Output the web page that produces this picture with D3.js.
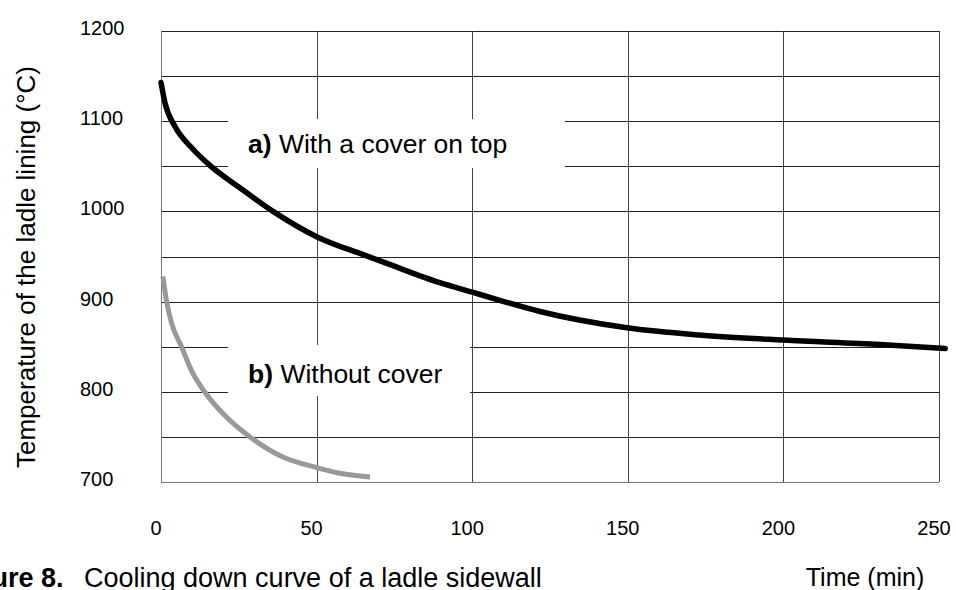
<!DOCTYPE html>
<html>
<head>
<meta charset="utf-8">
<script src="https://cdn.jsdelivr.net/npm/d3@7"></script>
<style>
  body { margin: 0; background: #fff; }
  svg text { font-family: "Liberation Sans", Arial, sans-serif; fill: #000; }
</style>
</head>
<body>
<svg id="chart" width="956" height="590"></svg>
<script>
const timeA = [0, 1.3, 4.5, 10, 15.7, 25, 36, 50, 65, 71.3, 89.6, 100, 108.3, 121.8, 149.7, 173, 200, 231, 252];
const tempA = [1143, 1120, 1094, 1070, 1051, 1027, 1000, 972, 952, 944, 921, 910.5, 902, 889, 871, 863, 857.4, 852.5, 848];

const timeB = [0.6, 1.8, 3.5, 6.6, 10, 14, 21, 28.6, 39, 50, 57, 67.2];
const tempB = [928, 900, 875, 850, 822, 800, 772, 750, 728, 716, 710, 705.5];

const xTicks = [0, 50, 100, 150, 200, 250];
const yTicks = [700, 800, 900, 1000, 1100, 1200];
const yGrid = [700, 750, 800, 850, 900, 950, 1000, 1050, 1100, 1150, 1200];

// label boxes in data units: [t0, t1, tempTop, tempBottom]
const boxA = [21.5, 129.8, 1102.4, 1048];
const boxB = [21.5, 99.3, 852, 795.3];

const margin = { top: 31, right: 17, bottom: 108, left: 161 },
    width = 956 - margin.left - margin.right,
    height = 590 - margin.top - margin.bottom;

const svg = d3.select("#chart");
const g = svg.append("g")
    .attr("transform", `translate(${margin.left},${margin.top})`);

const x = d3.scaleLinear().domain([0, 250]).range([0, width]);
const y = d3.scaleLinear().domain([700, 1200]).range([height, 0]);

// grid
g.selectAll(".hgrid")
    .data(yGrid)
    .enter().append("line")
    .attr("x1", 0).attr("x2", width)
    .attr("y1", d => Math.round(y(d)) + 0.5)
    .attr("y2", d => Math.round(y(d)) + 0.5)
    .attr("stroke", "#222")
    .attr("stroke-width", 1);

g.selectAll(".vgrid")
    .data(xTicks)
    .enter().append("line")
    .attr("x1", d => Math.round(x(d)) + 0.5)
    .attr("x2", d => Math.round(x(d)) + 0.5)
    .attr("y1", 0).attr("y2", height)
    .attr("stroke", d => d === 0 ? "#777" : "#444")
    .attr("stroke-width", 1);

g.append("line")
    .attr("x1", 0).attr("x2", width)
    .attr("y1", Math.round(height) + 0.5).attr("y2", Math.round(height) + 0.5)
    .attr("stroke", "#777");

// white boxes behind the labels
[boxA, boxB].forEach(b => {
    g.append("rect")
        .attr("x", x(b[0]))
        .attr("y", y(b[2]))
        .attr("width", x(b[1]) - x(b[0]))
        .attr("height", y(b[3]) - y(b[2]))
        .attr("fill", "#fff");
});

// tick labels
svg.selectAll(".ylab")
    .data(yTicks)
    .enter().append("text")
    .attr("x", 80)
    .attr("y", d => margin.top + y(d) - 3)
    .attr("dy", "0.35em")
    .style("font-size", "20px")
    .text(d => d);

svg.selectAll(".xlab")
    .data(xTicks)
    .enter().append("text")
    .attr("x", d => margin.left + x(d) - 5)
    .attr("y", 535)
    .attr("text-anchor", "middle")
    .style("font-size", "20px")
    .text(d => d);

// curves
const line = d3.line()
    .x(d => x(d[0]))
    .y(d => y(d[1]))
    .curve(d3.curveMonotoneX);

g.append("path")
    .datum(d3.zip(timeB, tempB))
    .attr("fill", "none")
    .attr("stroke", "#999")
    .attr("stroke-width", 5)
    .attr("d", line);

g.append("path")
    .datum(d3.zip(timeA, tempA))
    .attr("fill", "none")
    .attr("stroke", "#000")
    .attr("stroke-width", 5.5)
    .attr("stroke-linecap", "round")
    .attr("d", line);

// annotations
const labA = svg.append("text")
    .attr("x", 248).attr("y", 153)
    .style("font-size", "26.5px");
labA.append("tspan").style("font-weight", "bold").text("a)");
labA.append("tspan").text(" With a cover on top");

const labB = svg.append("text")
    .attr("x", 248).attr("y", 383)
    .style("font-size", "26.5px");
labB.append("tspan").style("font-weight", "bold").text("b)");
labB.append("tspan").text(" Without cover");

// axis titles
svg.append("text")
    .attr("transform", "translate(35,267) rotate(-90)")
    .attr("text-anchor", "middle")
    .style("font-size", "26px")
    .text("Temperature of the ladle lining (°C)");

svg.append("text")
    .attr("x", 865).attr("y", 586)
    .attr("text-anchor", "middle")
    .style("font-size", "25px")
    .text("Time (min)");

// caption, runs off the left edge like the source
const cap = svg.append("text")
    .attr("y", 587)
    .style("font-size", "27px");
cap.append("tspan").attr("x", -49).style("font-weight", "bold").text("Figure 8.");
cap.append("tspan").attr("x", 84).text("Cooling down curve of a ladle sidewall");
</script>
</body>
</html>
